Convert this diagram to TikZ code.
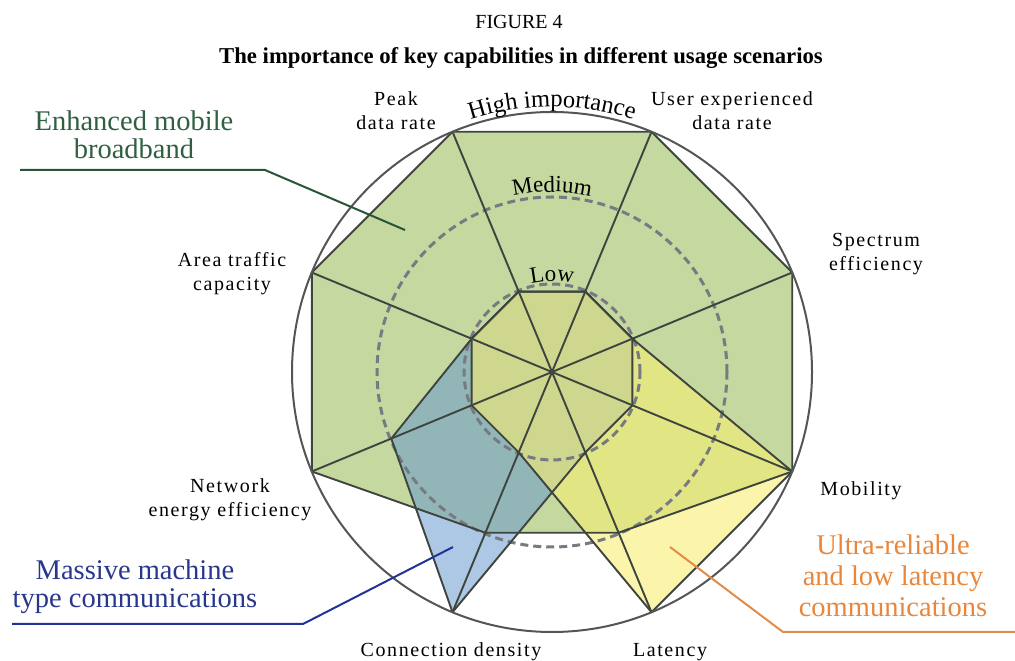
\documentclass[tikz,border=0pt]{standalone}
\usepackage{fontspec}
\setmainfont{Liberation Serif}
\newfontfamily\lblfont[LetterSpace=8]{Liberation Serif}
\usetikzlibrary{decorations.text,calc}
\definecolor{gfill}{RGB}{196,216,160}
\definecolor{bfill}{RGB}{105,155,205}
\definecolor{yfill}{RGB}{247,238,113}
\definecolor{lineC}{RGB}{62,68,62}
\definecolor{circC}{RGB}{85,85,85}
\definecolor{dashC}{RGB}{120,122,130}
\definecolor{embbC}{RGB}{48,96,64}
\definecolor{embbL}{RGB}{40,85,55}
\definecolor{mmtcC}{RGB}{40,55,140}
\definecolor{mmtcL}{RGB}{35,50,150}
\definecolor{urllcC}{RGB}{232,135,60}
\definecolor{urllcL}{RGB}{225,140,75}
\begin{document}
\begin{tikzpicture}[x=1pt,y=1pt,
  edge/.style={draw=lineC, line width=1.9pt, line join=round},
  lvl/.style={draw=dashC, line width=3pt, dash pattern=on 8pt off 5pt},
  circ/.style={draw=circC, line width=2pt},
  axlbl/.style={font=\lblfont\fontsize{20}{24}\selectfont, align=center, inner sep=0pt},
  scen/.style={font=\fontsize{28.5}{28}\selectfont, align=center, inner sep=0pt},
  leader/.style={line width=2pt},
]
\useasboundingbox (0,0) rectangle (1015,661);
\coordinate (C) at (552,289);
\foreach \n/\a in {s/22.5, u/67.5, p/112.5, a/157.5, n/202.5, c/247.5, l/292.5, m/337.5} {
  \coordinate (\n H) at ($(C)+(\a:260)$);
  \coordinate (\n M) at ($(C)+(\a:174)$);
  \coordinate (\n L) at ($(C)+(\a:87)$);
}
% fills
\fill[gfill] (sH) -- (uH) -- (pH) -- (aH) -- (nH) -- (cM) -- (lM) -- (mH) -- cycle;
\fill[bfill, fill opacity=0.55] (sL) -- (uL) -- (pL) -- (aL) -- (nM) -- (cH) -- (lL) -- (mL) -- cycle;
\fill[yfill, fill opacity=0.6] (sL) -- (uL) -- (pL) -- (aL) -- (nL) -- (cL) -- (lH) -- (mH) -- cycle;
% level circles
\draw[lvl] (C) circle[radius=175];
\draw[lvl] (C) circle[radius=88];
% outlines
\draw[edge] (sH) -- (uH) -- (pH) -- (aH) -- (nH) -- (cM) -- (lM) -- (mH) -- cycle;
\draw[edge] (sL) -- (uL) -- (pL) -- (aL) -- (nM) -- (cH) -- (lL) -- (mL) -- cycle;
\draw[edge] (sL) -- (uL) -- (pL) -- (aL) -- (nL) -- (cL) -- (lH) -- (mH) -- cycle;
\foreach \n in {s,u,p,a,n,c,l,m} \draw[edge] (C) -- (\n H);
\draw[circ] (C) circle[radius=260];
% curved level labels
\path[decorate, decoration={text along path, text align=center,
  text={|\fontsize{24.5}{24}\selectfont|High importance}}]
  ($(C)+(130:265)$) arc[start angle=130, end angle=50, radius=265];
\path[decorate, decoration={text along path, text align=center,
  text={|\fontsize{23}{23}\selectfont|Medium}}]
  ($(C)+(125:180)$) arc[start angle=125, end angle=55, radius=180];
\path[decorate, decoration={text along path, text align=center,
  text={|\fontsize{23}{23}\selectfont|Low}}]
  ($(C)+(140:91)$) arc[start angle=140, end angle=40, radius=91];
% titles
\node[inner sep=0pt, font=\fontsize{20}{24}\selectfont] (fig) at (519,639) {FIGURE 4};
\node[inner sep=0pt, font=\bfseries\fontsize{22.7}{26}\selectfont] (ttl) at (521,603) {The importance of key capabilities in different usage scenarios};
% axis labels
\node[axlbl] (lPeak) at (396,550.5) {Peak\\data rate};
\node[axlbl] (lUser) at (732,550.5) {User experienced\\data rate};
\node[axlbl] (lSpec) at (876,407) {Spectrum\\efficiency};
\node[axlbl] (lArea) at (232,387) {Area traffic\\capacity};
\node[axlbl] (lNet) at (230,161) {Network\\energy efficiency};
\node[axlbl, anchor=base] (lMob) at (861,165) {Mobility};
\node[axlbl, anchor=base] (lConn) at (451,4) {Connection density};
\node[axlbl, anchor=base] (lLat) at (670,4) {Latency};
% scenario labels
\node[scen, text=embbC] (tE) at (134,526) {Enhanced mobile\\broadband};
\node[scen, text=mmtcC] (tM) at (135,74) {Massive machine\\type communications};
\node[scen, text=urllcC, font=\fontsize{28.5}{31}\selectfont] (tU) at (893,85) {Ultra-reliable\\and low latency\\communications};
% leaders
\coordinate (e1) at (20,491); \coordinate (e2) at (265,491); \coordinate (e3) at (405,431);
\coordinate (m1) at (12,37); \coordinate (m2) at (303,37); \coordinate (m3) at (453,114);
\coordinate (u1) at (1015,29); \coordinate (u2) at (783,29); \coordinate (u3) at (670,114);
\draw[leader, embbL] (e1) -- (e2) -- (e3);
\draw[leader, mmtcL] (m1) -- (m2) -- (m3);
\draw[leader, urllcL] (u1) -- (u2) -- (u3);
\end{tikzpicture}
\end{document}
